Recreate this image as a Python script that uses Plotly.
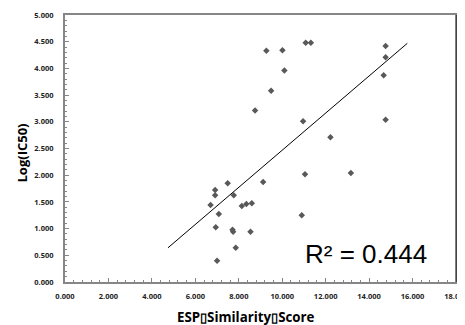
import plotly.graph_objects as go

# ESP similarity score (x) and Log(IC50) (y)
esp_score = [9.27, 10.01, 11.08, 11.32, 10.10, 9.49, 8.75, 10.96, 11.05, 9.12,
             7.49, 6.91, 6.91, 7.77, 6.70, 8.14, 8.35, 8.60, 7.08, 10.90,
             6.94, 7.71, 7.74, 8.54, 7.86, 7.00, 14.76, 14.76, 14.67, 14.76,
             12.22, 13.16]
log_ic50 = [4.33, 4.34, 4.48, 4.48, 3.96, 3.58, 3.21, 3.01, 2.02, 1.875,
            1.85, 1.725, 1.625, 1.625, 1.44, 1.425, 1.46, 1.475, 1.275, 1.25,
            1.025, 0.98, 0.94, 0.94, 0.64, 0.40, 4.42, 4.21, 3.87, 3.04,
            2.71, 2.04]

# Linear trendline endpoints
trend_x = [4.74, 15.76]
trend_y = [0.64, 4.47]

x_ticks = [0, 2, 4, 6, 8, 10, 12, 14, 16, 18]
y_ticks = [0, 0.5, 1, 1.5, 2, 2.5, 3, 3.5, 4, 4.5, 5]

r2_text = "R² = 0.444"
x_title = "ESP\u25AFSimilarity\u25AFScore"
y_title = "Log(IC50)"

AX = "#868686"
tickfont = dict(family="Open Sans", size=7.5, color="#222222")

fig = go.Figure()
fig.add_trace(go.Scatter(x=trend_x, y=trend_y, mode="lines",
                         line=dict(color="black", width=1), hoverinfo="skip"))
fig.add_trace(go.Scatter(x=esp_score, y=log_ic50, mode="markers",
                         marker=dict(symbol="diamond", size=5, color="#595959")))

# page body has an 8px margin, so the figure is sized/offset to compensate
fig.update_layout(
    width=457, height=317,
    margin=dict(l=57, r=9, t=7, b=43),
    paper_bgcolor="white", plot_bgcolor="white",
    showlegend=False,
    font=dict(family="Open Sans"),
    xaxis=dict(range=[0, 18], tickvals=x_ticks,
               ticktext=[f"<b>{v:.3f}</b>" for v in x_ticks],
               tickfont=tickfont, showgrid=False, zeroline=False,
               showline=True, linecolor=AX, linewidth=2, mirror=True,
               ticks="inside", ticklen=4, tickcolor=AX, tickwidth=1,
               ticklabelstandoff=6, automargin=False,
               ticklabeloverflow="allow",
               minor=dict(dtick=0.4, ticks="inside", ticklen=2, tickcolor=AX,
                          showgrid=False)),
    yaxis=dict(range=[0, 5], tickvals=y_ticks,
               ticktext=[f"<b>{v:.3f}</b>" for v in y_ticks],
               tickfont=tickfont, showgrid=False, zeroline=False,
               showline=True, linecolor=AX, linewidth=2, mirror=True,
               ticks="inside", ticklen=4, tickcolor=AX, tickwidth=1,
               ticklabelstandoff=8, automargin=False,
               minor=dict(dtick=0.1, ticks="inside", ticklen=2, tickcolor=AX,
                          showgrid=False)),
)

# black right border
fig.add_shape(type="line", xref="paper", yref="paper", x0=1, x1=1, y0=0, y1=1,
              line=dict(color="black", width=1))

fig.add_annotation(text=r2_text, xref="x", yref="y", x=10.94, y=0.2,
                   xanchor="left", yanchor="bottom", showarrow=False,
                   font=dict(family="Liberation Sans", size=26, color="black"))
fig.add_annotation(text=f"<b>{x_title}</b>", xref="paper", yref="paper",
                   x=0.463, y=0, yshift=-35, xanchor="center", yanchor="middle",
                   showarrow=False,
                   font=dict(family="Open Sans", size=13.3, color="black"))
fig.add_annotation(text=f"<b>{y_title}</b>", xref="paper", yref="paper",
                   x=0, xshift=-44, y=0.5, yshift=-5, xanchor="center",
                   yanchor="middle", textangle=-90, showarrow=False,
                   font=dict(family="Open Sans", size=13, color="black"))

fig.write_html("out.html")
